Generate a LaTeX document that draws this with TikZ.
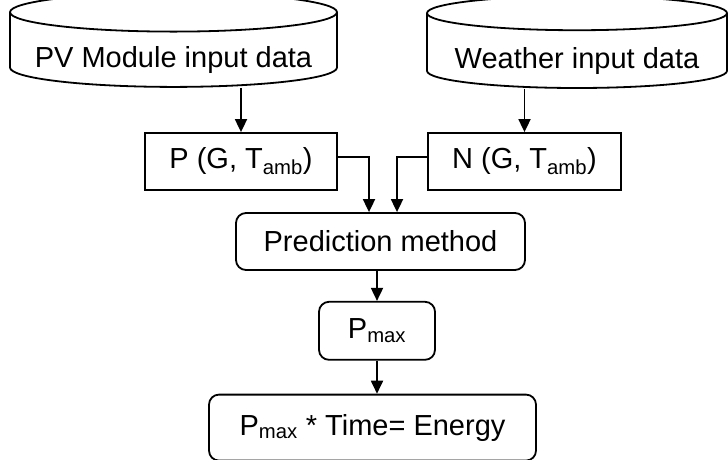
\documentclass[tikz,border=0pt]{standalone}
\usepackage{fontspec}
\setmainfont{Liberation Sans}
\usetikzlibrary{arrows.meta,shapes.geometric,positioning}
\tikzset{
  basic/.style  = {draw, line width=1.8pt, font=\fontsize{29}{34}\selectfont,
                   inner sep=0pt, align=center},
  store/.style  = {basic, cylinder, shape border rotate=90, shape aspect=0.14,
                   text height=35pt, text depth=0pt, minimum width=327pt, minimum height=91pt},
  block/.style  = {basic, rectangle, minimum height=57pt},
  rblock/.style = {basic, rectangle, rounded corners=10pt},
  link/.style   = {line width=1.8pt, -{Triangle[width=12pt,length=13pt]}}
}
\begin{document}
\begin{tikzpicture}[x=1pt, y=-1pt]
\useasboundingbox (0,0) rectangle (728,459);

% input data
\node[store] (pv) at (173.5,50) {PV Module input data};
\node[store, minimum width=300pt, minimum height=92pt] (wx) at (577,51) {Weather input data};

% models
\node[block, minimum width=192pt] (pbox) at (241,161.5) {P (G, T\textsubscript{amb})};
\node[block, minimum width=193pt] (nbox) at (524.5,161.5) {N (G, T\textsubscript{amb})};

% prediction chain, placed below one another
\node[rblock, minimum width=289pt, minimum height=57pt] (pred) at (380.5,241.5) {Prediction method};
\node[rblock, below=30pt of pred, xshift=-3.5pt, minimum width=116pt, minimum height=58pt] (pmax) {P\textsubscript{max}};
\node[rblock, below=33pt of pmax, xshift=-4.5pt, minimum width=327pt, minimum height=66pt] (energy) {P\textsubscript{max} * Time= Energy};

\draw[link] (pv.south -| pbox.north) -- (pbox.north);
\draw[link] (wx.south -| nbox.north) -- (nbox.north);
\draw[link] ([yshift=4.5pt]pbox.east) -| ([xshift=-11.5pt]pred.north);
\draw[link] ([yshift=4.5pt]nbox.west) -| ([xshift=16.5pt]pred.north);
\draw[link] (pmax.north |- pred.south) -- (pmax.north);
\draw[link] (pmax.south) -- (pmax.south |- energy.north);
\end{tikzpicture}
\end{document}
